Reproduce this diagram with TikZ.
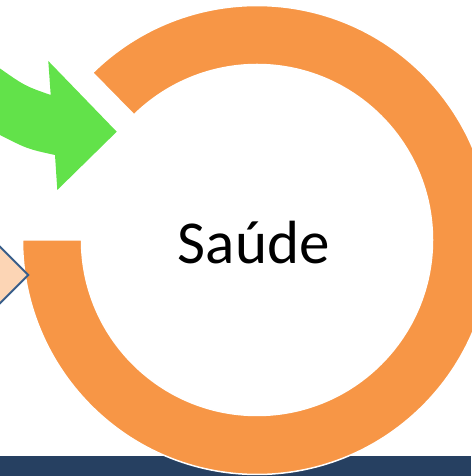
\documentclass[tikz,border=0pt]{standalone}
\usepackage{fontspec}
\setmainfont{Carlito}
\usetikzlibrary{calc}
\definecolor{ringc}{HTML}{F79646}
\definecolor{arrowg}{HTML}{62E24A}
\definecolor{peach}{HTML}{FCD5B5}
\definecolor{edgeb}{HTML}{385D8A}
\definecolor{navy}{HTML}{264061}
\tikzset{
  ring/.style={fill=ringc, draw=white, line width=1.5pt},
  garrow/.style={fill=arrowg},
  diam/.style={fill=peach, draw=edgeb, line width=2pt, line join=miter},
  bar/.style={fill=navy},
  label/.style={inner sep=0pt, anchor=base, font=\fontsize{61}{70}\selectfont}
}
\begin{document}
\begin{tikzpicture}[x=1pt,y=1pt]
\useasboundingbox (0,0) rectangle (471,476);
\coordinate (c) at (257,236);
% bottom bar
\fill[bar] (0,0) rectangle (471,20.3);
% ring
\path[ring] ($(c)+(134.5:234.5)$) arc[start angle=134.5, end angle=-180, radius=234.5]
  -- ($(c)+(180:175.5)$) arc[start angle=-180, end angle=134.5, radius=175.5] -- cycle;
% green arrow
\coordinate (A) at (0,407.5);
\coordinate (B) at (50.7,381);
\coordinate (C) at (48.3,415);
\coordinate (D) at (116.7,344.3);
\coordinate (E) at (57.3,286);
\coordinate (F) at (55,321);
\coordinate (G) at (0,341);
\fill[garrow] (A) .. controls (25,390) .. (B) -- (C) -- (D) -- (E) -- (F)
  .. controls (27.5,327) .. (G) -- cycle;
% peach diamond
\draw[diam] (28.3,201) -- (0,229.3) -- (-28.3,201) -- (0,172.7) -- cycle;
% text
\node[label] (t) at (253.7,212.7) {Saúde};
\end{tikzpicture}
\end{document}
